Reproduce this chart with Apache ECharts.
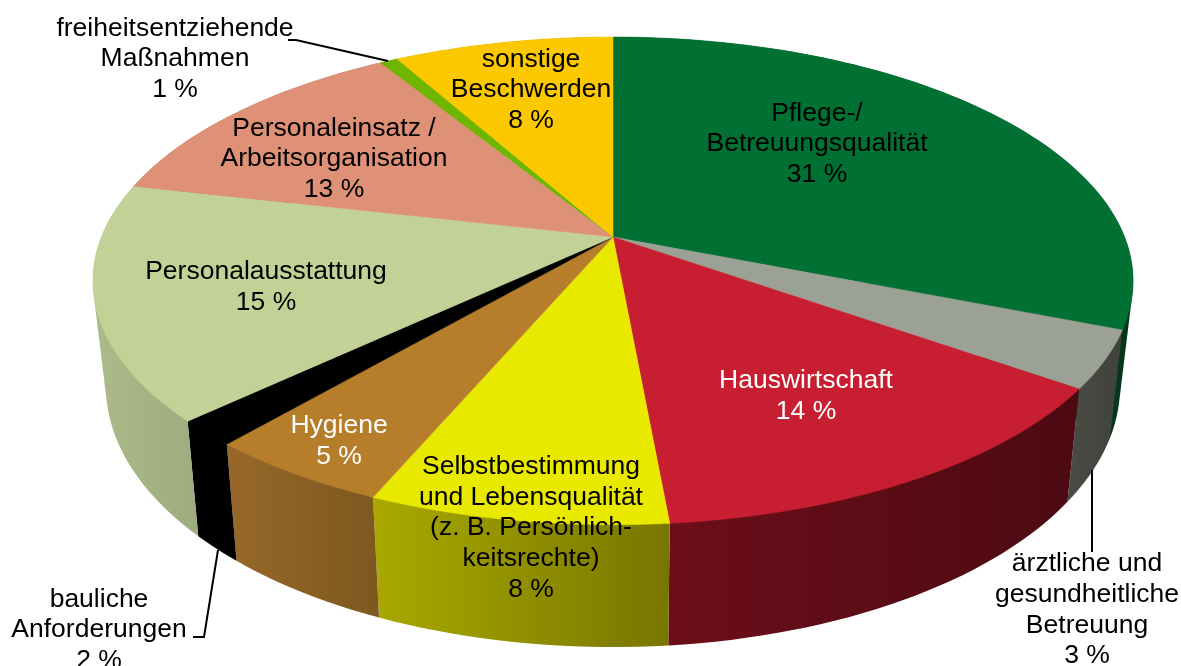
<!DOCTYPE html>
<html>
<head>
<meta charset="utf-8">
<style>
  html, body { margin: 0; padding: 0; background: #fff; }
  #chart { width: 1181px; height: 666px; }
</style>
<script src="https://cdn.jsdelivr.net/npm/echarts@6/dist/echarts.min.js"></script>
</head>
<body>
<div id="chart"></div>
<script>
// slice shares (the printed labels are rounded)
const categories = ["Pflege-/\nBetreuungsqualität", "ärztliche und\ngesundheitliche\nBetreuung", "Hauswirtschaft",
  "Selbstbestimmung\nund Lebensqualität\n(z. B. Persönlich-\nkeitsrechte)", "Hygiene", "bauliche\nAnforderungen",
  "Personalausstattung", "Personaleinsatz /\nArbeitsorganisation", "freiheitsentziehende\nMaßnahmen", "sonstige\nBeschwerden"];
const values = [31, 3.8, 13.75, 7.85, 4.9, 1.7, 15.6, 12.63, 0.65, 8.12];
const percentLabels = ["31 %", "3 %", "14 %", "8 %", "5 %", "2 %", "15 %", "13 %", "1 %", "8 %"];

const topColors = ["#007033", "#9ca195", "#c71f31", "#e9e900", "#b67d2a", "#000000", "#c2d296", "#de9176", "#6fb600", "#fcc800"];
const wallColors = [
  ["#03401f", "#03381c"], ["#4a4c45", "#3f413b"], ["#6c0e1a", "#4c0a12"], ["#a9a900", "#787600"], ["#98682a", "#7d581f"],
  ["#000000", "#000000"], ["#adbb8a", "#9dac7e"], ["#9c6652", "#9c6652"], ["#4e8000", "#4e8000"], ["#b08c00", "#b08c00"]
];
const labelColors = ["#000", "#000", "#fff", "#000", "#fff", "#000", "#000", "#000", "#000", "#000"];
// label centres in pixels
const labelPos = [[817, 144], [1087, 610], [806, 396], [531, 528], [339, 441], [99, 630], [266, 287], [334, 159], [175, 59], [531, 90]];
const leaders = [
  [[288, 40], [296, 40], [388, 61]],
  [[193, 637], [204, 637], [218, 550]],
  [[1092, 470], [1092, 552]]
];

// perspective of the disc: apex at (cx, cy), k is the foreshortening towards the far edge
const cx = 613, cy = 237, fx = 511.6, fy = 236, k = 0.18;
const total = values.reduce((a, b) => a + b, 0);
let acc = 0;
const spans = values.map((v, i) => {
  const s = [acc / total, (acc + v) / total, i];
  acc += v;
  return s;
});

function topPoint(f) {
  const t = f * 2 * Math.PI;
  const X = Math.sin(t), Y = Math.cos(t), w = 1 + k * Y;
  return [cx + fx * X / w, cy - fy * Y / w];
}
function bottomPoint(f) {
  const p = topPoint(f);
  return [cx + 0.975 * (p[0] - cx), 85.5 + 1.07 * p[1]];
}
function arc(start, end, fn) {
  const n = Math.max(2, Math.ceil((end - start) * 240));
  const pts = [];
  for (let j = 0; j <= n; j++) pts.push(fn(start + (end - start) * j / n));
  return pts;
}
// outline of a wall: hull of both rims, the part above the rim is hidden by the top faces
function hull(points) {
  const pts = points.slice().sort((a, b) => a[0] - b[0] || a[1] - b[1]);
  const cross = (o, a, b) => (a[0] - o[0]) * (b[1] - o[1]) - (a[1] - o[1]) * (b[0] - o[0]);
  const half = list => {
    const out = [];
    list.forEach(p => {
      while (out.length > 1 && cross(out[out.length - 2], out[out.length - 1], p) <= 0) out.pop();
      out.push(p);
    });
    out.pop();
    return out;
  };
  return half(pts).concat(half(pts.slice().reverse()));
}
function hGradient(c) {
  return { type: "linear", x: 0, y: 0, x2: 1, y2: 0, colorStops: [{ offset: 0, color: c[0] }, { offset: 1, color: c[1] }] };
}

const labelElements = categories.map((name, i) => ({
  type: "text",
  x: labelPos[i][0],
  y: labelPos[i][1],
  z: 10,
  style: {
    text: name + "\n" + percentLabels[i],
    fill: labelColors[i],
    font: '26.5px "Liberation Sans", Arial, sans-serif',
    lineHeight: 30.6,
    align: "center",
    verticalAlign: "middle"
  }
}));
const leaderElements = leaders.map(pts => ({
  type: "polyline",
  z: 9,
  shape: { points: pts },
  style: { stroke: "#000", lineWidth: 2, fill: "none" }
}));

const myChart = echarts.init(document.getElementById("chart"), null, { renderer: "canvas" });
myChart.setOption({
  animation: false,
  backgroundColor: "#fff",
  series: [
    {
      // side walls first, the top faces hide the far half
      type: "custom",
      coordinateSystem: "none",
      z: 1,
      silent: true,
      data: spans,
      renderItem: (params, api) => {
        const s = api.value(0), e = api.value(1), i = api.value(2);
        const points = hull(arc(s, e, topPoint).concat(arc(s, e, bottomPoint)));
        return { type: "polygon", shape: { points }, style: { fill: hGradient(wallColors[i]) } };
      }
    },
    {
      type: "custom",
      coordinateSystem: "none",
      z: 2,
      silent: true,
      data: spans,
      renderItem: (params, api) => {
        const s = api.value(0), e = api.value(1), i = api.value(2);
        const points = [[cx, cy]].concat(arc(s, e, topPoint));
        return { type: "polygon", shape: { points }, style: { fill: topColors[i], stroke: topColors[i], lineWidth: 0.5 } };
      }
    }
  ],
  graphic: { elements: leaderElements.concat(labelElements) }
});

window.addEventListener("resize", () => {
  myChart.resize();
});
</script>
</body>
</html>
